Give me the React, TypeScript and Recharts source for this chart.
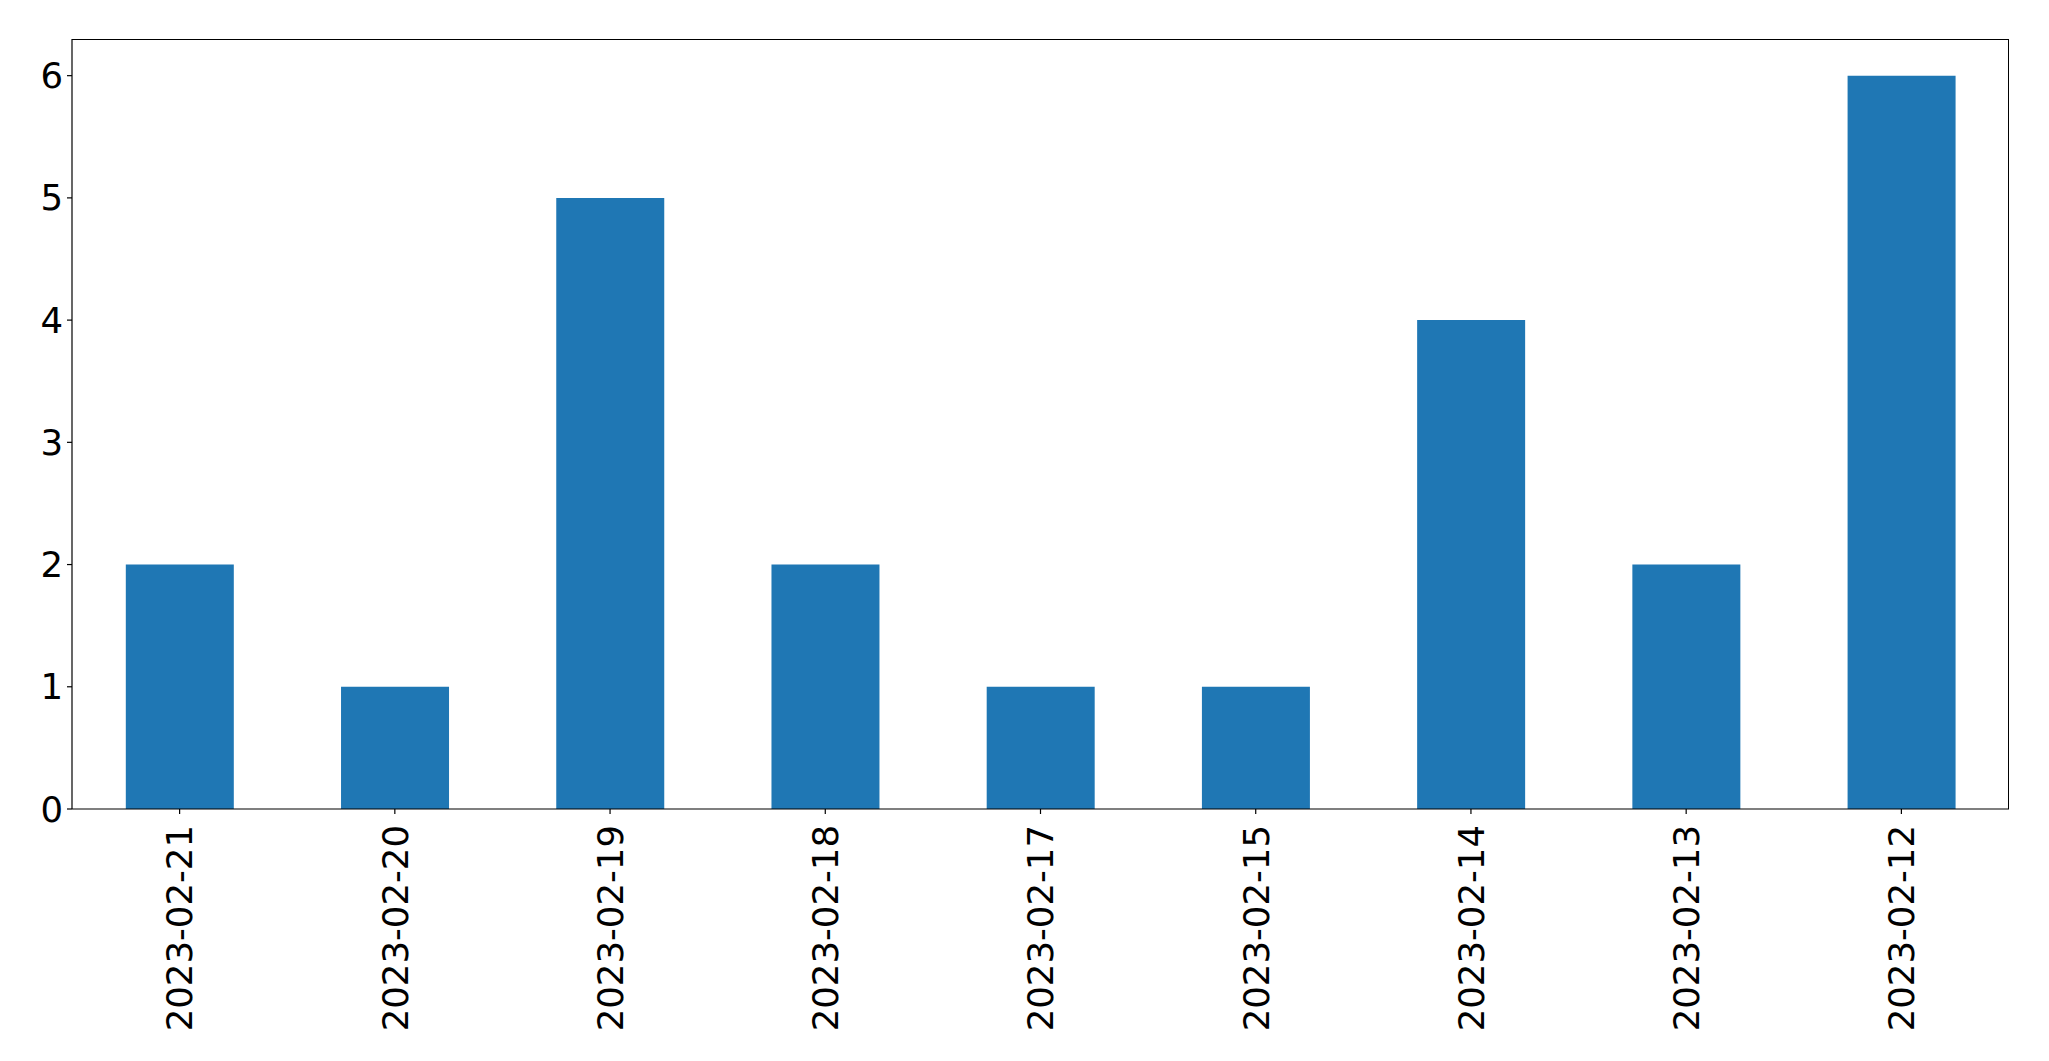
import { Bar, BarChart, XAxis, YAxis } from "recharts";

// Dates as shown on the x axis (left to right)
const dates = [
  "2023-02-21",
  "2023-02-20",
  "2023-02-19",
  "2023-02-18",
  "2023-02-17",
  "2023-02-15",
  "2023-02-14",
  "2023-02-13",
  "2023-02-12",
];
const counts = [2, 1, 5, 2, 1, 1, 4, 2, 6];
const yTicks = [0, 1, 2, 3, 4, 5, 6];

const data = dates.map((d, i) => ({ date: d, count: counts[i] }));

const FONT = "DejaVu Sans";
const FS = 35.5;

// plot frame (matches chart margins below)
const PLOT = { left: 72, top: 39, right: 40, bottom: 252 };
const W = 2049;
const H = 1061;

function DateTick(props: any) {
  const { x, y, payload } = props;
  return (
    <text
      x={0}
      y={0}
      transform={`translate(${x},${y + 9}) rotate(-90)`}
      textAnchor="end"
      dy="0.36em"
      fontFamily={FONT}
      fontSize={FS}
      fill="#000"
    >
      {payload.value}
    </text>
  );
}

export default function App() {
  return (
    <div style={{ position: "absolute", left: 0, top: 0, width: W, height: H, background: "#fff" }}>
      <BarChart
        width={W}
        height={H}
        data={data}
        margin={{ top: PLOT.top, right: PLOT.right, left: 0, bottom: 0 }}
        barCategoryGap="25%"
      >
        <XAxis
          dataKey="date"
          height={PLOT.bottom}
          interval={0}
          tickSize={5}
          tick={<DateTick />}
          stroke="#000"
          tickLine={{ stroke: "#000", strokeWidth: 1.2 }}
          axisLine={{ stroke: "#000", strokeWidth: 1.2 }}
        />
        <YAxis
          width={PLOT.left}
          domain={[0, 6.3]}
          ticks={yTicks}
          tickSize={5}
          tickMargin={4}
          tick={{ fontFamily: FONT, fontSize: FS, fill: "#000" }}
          tickLine={{ stroke: "#000", strokeWidth: 1.2 }}
          axisLine={{ stroke: "#000", strokeWidth: 1.2 }}
          allowDataOverflow
        />
        <Bar dataKey="count" fill="#1f77b4" isAnimationActive={false} />
      </BarChart>
      {/* top/right spines */}
      <div
        style={{
          position: "absolute",
          left: PLOT.left,
          top: PLOT.top,
          width: W - PLOT.left - PLOT.right,
          height: H - PLOT.top - PLOT.bottom,
          borderTop: "1.2px solid #000",
          borderRight: "1.2px solid #000",
          boxSizing: "border-box",
          pointerEvents: "none",
        }}
      />
    </div>
  );
}
